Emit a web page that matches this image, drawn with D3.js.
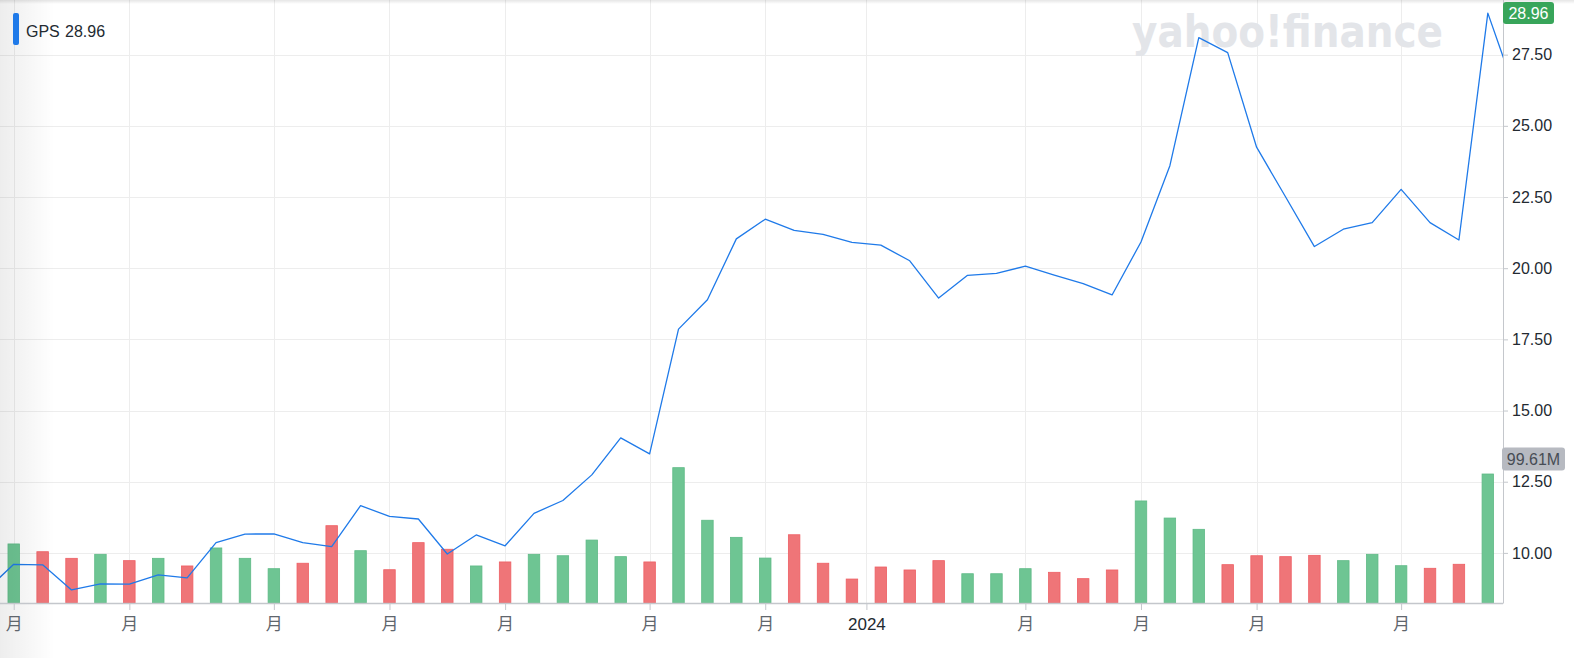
<!DOCTYPE html>
<html>
<head>
    <title>GPS weekly</title>
    <script src="https://d3js.org/d3.v7.min.js"></script>
    <style>
        body { margin: 0; background: #fff; font-family: "Helvetica Neue", "Liberation Sans", Arial, "Noto Sans CJK SC", sans-serif; }
        svg { display: block; }
    </style>
</head>
<body>
<div class="chart"></div>

<script>
    // weekly closes, index -1 and 52 run off the plot edges
    const closeIdx = d3.range(-1, 53);
    const closes = [8.64, 9.60, 9.58, 8.70, 8.91, 8.90, 9.23, 9.12, 10.36, 10.66, 10.67,
        10.36, 10.22, 11.66, 11.28, 11.19, 9.96, 10.63, 10.25, 11.39, 11.84,
        12.74, 14.04, 13.48, 17.86, 18.89, 21.03, 21.72, 21.33, 21.19, 20.91,
        20.81, 20.26, 18.95, 19.75, 19.82, 20.07, 19.76, 19.46, 19.06, 20.92,
        23.60, 28.10, 27.57, 24.25, 22.51, 20.76, 21.37, 21.60, 22.77, 21.60,
        20.99, 28.96, 26.05];

    // weekly volume in millions, index 0..51
    const volumes = [45.6, 39.6, 34.5, 37.6, 32.7, 34.5, 28.6, 42.5, 34.5, 26.5,
        30.7, 59.7, 40.4, 25.7, 46.6, 41.5, 28.6, 31.7, 37.6, 36.5,
        48.6, 35.8, 31.7, 104.5, 63.9, 50.7, 34.7, 52.7, 30.7, 18.5,
        27.8, 25.5, 32.7, 22.6, 22.6, 26.5, 23.7, 18.8, 25.5, 78.8,
        65.6, 56.9, 29.6, 36.5, 35.8, 36.8, 32.7, 37.6, 28.8, 26.8,
        29.9, 99.61];

    const priceTicks = [10, 12.5, 15, 17.5, 20, 22.5, 25, 27.5];
    const timeTickIdx = [0, 4, 9, 13, 17, 22, 26, 29.5, 35, 39, 43, 48];
    const timeTickLabels = ["月", "月", "月", "月", "月", "月", "月", "2024", "月", "月", "月", "月"];

    const symbol = "GPS";
    const lastPrice = 28.96;
    const lastVolume = "99.61M";

    const W = 1574, H = 658;
    const plotRight = 1503, plotBottom = 603;

    const svg = d3.select(".chart").append("svg").attr("width", W).attr("height", H);

    const x = d3.scaleLinear().domain([-0.475, 51.525]).range([0, plotRight]);
    const y = d3.scaleLinear().domain([8.24, 29.42]).range([plotBottom, 0]);
    const yVol = d3.scaleLinear().domain([0, 100]).range([plotBottom, plotBottom - 129.5]);

    const defs = svg.append("defs");
    defs.append("clipPath").attr("id", "plot")
        .append("rect").attr("x", 0).attr("y", 0).attr("width", plotRight).attr("height", plotBottom);
    const fade = defs.append("linearGradient").attr("id", "fade").attr("x1", 0).attr("x2", 1).attr("y1", 0).attr("y2", 0);
    fade.append("stop").attr("offset", 0).attr("stop-color", "#000").attr("stop-opacity", 0.07);
    fade.append("stop").attr("offset", 1).attr("stop-color", "#000").attr("stop-opacity", 0);
    const topFade = defs.append("linearGradient").attr("id", "topfade").attr("x1", 0).attr("x2", 0).attr("y1", 0).attr("y2", 1);
    topFade.append("stop").attr("offset", 0).attr("stop-color", "#000").attr("stop-opacity", 0.1);
    topFade.append("stop").attr("offset", 1).attr("stop-color", "#000").attr("stop-opacity", 0);

    // grid
    const grid = svg.append("g").attr("stroke", "#ededed").attr("stroke-width", 1);
    grid.selectAll(".hg").data(priceTicks).enter().append("line")
        .attr("x1", 0).attr("x2", plotRight)
        .attr("y1", d => Math.round(y(d)) + 0.5).attr("y2", d => Math.round(y(d)) + 0.5);
    grid.selectAll(".vg").data(timeTickIdx).enter().append("line")
        .attr("y1", 0).attr("y2", plotBottom)
        .attr("x1", d => Math.round(x(d)) + 0.5).attr("x2", d => Math.round(x(d)) + 0.5);

    // watermark
    svg.append("text")
        .attr("x", 1132).attr("y", 47)
        .attr("textLength", 311).attr("lengthAdjust", "spacingAndGlyphs")
        .style("font-family", "'DejaVu Sans', 'Liberation Sans', sans-serif")
        .style("font-weight", "bold")
        .style("font-size", "45px")
        .attr("fill", "#e3e5e9")
        .text("yahoo!finance");

    // volume bars
    const barW = 11.5;
    const up = volumes.map((v, i) => closes[i + 1] >= closes[i]);
    svg.append("g").attr("clip-path", "url(#plot)")
        .selectAll("rect").data(volumes).enter().append("rect")
        .attr("x", (d, i) => x(i) - barW / 2)
        .attr("width", barW)
        .attr("y", d => yVol(d))
        .attr("height", d => plotBottom - yVol(d))
        .attr("fill", (d, i) => up[i] ? "#6ec593" : "#ef7578")
        .attr("stroke", (d, i) => up[i] ? "#5fba86" : "#ee5f64")
        .attr("stroke-width", 0.8);

    // price line
    const line = d3.line()
        .x((d, i) => x(closeIdx[i]))
        .y(d => y(d));
    svg.append("path")
        .datum(closes)
        .attr("clip-path", "url(#plot)")
        .attr("fill", "none")
        .attr("stroke", "#1f7ae9")
        .attr("stroke-width", 1.3)
        .attr("stroke-linejoin", "round")
        .attr("d", line);

    // edge shading
    svg.append("rect").attr("x", 0).attr("y", 0).attr("width", 55).attr("height", H).attr("fill", "url(#fade)");
    svg.append("rect").attr("x", 0).attr("y", 0).attr("width", W).attr("height", 4).attr("fill", "url(#topfade)");

    // right price axis
    const yAxis = svg.append("g")
        .attr("transform", "translate(" + plotRight + ",0)")
        .call(d3.axisRight(y).tickValues(priceTicks).tickFormat(d3.format(".2f")).tickSize(5).tickPadding(4));
    yAxis.select(".domain").attr("stroke", "#c4c7cc").attr("d", "M0.5,0V" + (plotBottom + 0.5));
    yAxis.selectAll(".tick line").attr("stroke", "#c4c7cc");
    yAxis.selectAll(".tick text")
        .attr("fill", "#232a31")
        .style("font-size", "16px")
        .style("font-family", "'Helvetica Neue', 'Liberation Sans', Arial, sans-serif");

    // bottom time axis
    const xAxis = svg.append("g")
        .attr("transform", "translate(0," + plotBottom + ")")
        .call(d3.axisBottom(x).tickValues(timeTickIdx).tickFormat((d, i) => timeTickLabels[i]).tickSize(7).tickPadding(8));
    xAxis.select(".domain").attr("stroke", "#c4c7cc").attr("stroke-width", 1.5).attr("d", "M0,0.5H" + plotRight);
    xAxis.selectAll(".tick line").attr("stroke", "#c4c7cc");
    xAxis.selectAll(".tick text")
        .attr("fill", (d, i) => timeTickLabels[i] === "2024" ? "#232a31" : "#5f666d")
        .style("font-size", "17px")
        .style("font-family", "'Helvetica Neue', 'Liberation Sans', Arial, 'Noto Sans CJK SC', sans-serif");

    // last price label
    const py = y(lastPrice);
    svg.append("rect").attr("x", 1503).attr("y", py - 11).attr("width", 51).attr("height", 22)
        .attr("rx", 3).attr("fill", "#38a55a");
    svg.append("text").attr("x", 1528.5).attr("y", py).attr("dy", "0.36em")
        .attr("text-anchor", "middle").attr("fill", "#fff").style("font-size", "16px")
        .text(lastPrice.toFixed(2));

    // last volume label
    const vy = yVol(volumes[volumes.length - 1]) - 15;
    svg.append("rect").attr("x", 1502).attr("y", vy - 11.5).attr("width", 63).attr("height", 23)
        .attr("rx", 3).attr("fill", "#b7bac1");
    svg.append("text").attr("x", 1533.5).attr("y", vy).attr("dy", "0.36em")
        .attr("text-anchor", "middle").attr("fill", "#474d55").style("font-size", "16px")
        .text(lastVolume);

    // legend
    svg.append("rect").attr("x", 13).attr("y", 13).attr("width", 6).attr("height", 32).attr("rx", 2)
        .attr("fill", "#1f7ae9");
    svg.append("text").attr("x", 26).attr("y", 37).attr("fill", "#232a31").style("font-size", "16px").text(symbol);
    svg.append("text").attr("x", 65).attr("y", 37).attr("fill", "#232a31").style("font-size", "16px").text(lastPrice.toFixed(2));
</script>
</body>
</html>
